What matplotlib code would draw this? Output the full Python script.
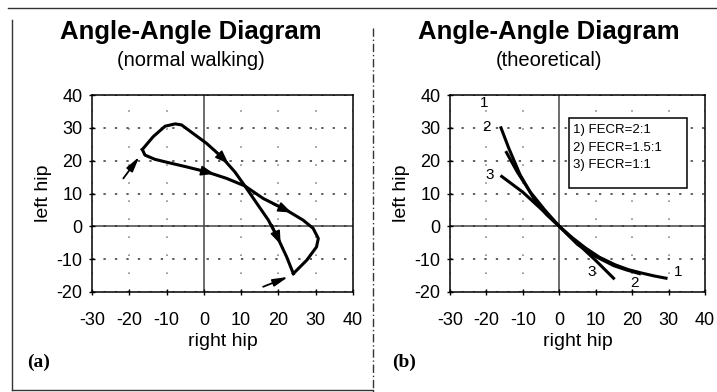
import matplotlib.pyplot as plt
from matplotlib.lines import Line2D
from matplotlib.patches import Rectangle

plt.rcParams['font.family'] = ['Liberation Sans', 'DejaVu Sans']
plt.rcParams['axes.unicode_minus'] = False

# (a) measured hip angles, normal walking (degrees)
upper_x = [-16.5, -13.6, -10.4, -7.7, -6.0, -2.9, 0.7, 4.7, 8.3, 11.0,
           14.2, 17.3, 19.9, 22.2, 24.0]
upper_y = [23.4, 27.3, 30.5, 31.2, 30.9, 28.3, 25.3, 21.2, 16.6, 12.3,
           7.0, 1.9, -3.7, -9.3, -14.4]
lower_x = [-16.5, -15.8, -13.1, -9.5, -4.6, 0.7, 6.1, 11.0, 15.9, 22.2,
           26.6, 29.3, 30.7, 30.2, 27.6, 24.0]
lower_y = [23.4, 21.7, 20.4, 19.4, 18.1, 16.6, 14.6, 12.3, 8.5, 4.9,
           1.9, -0.6, -3.7, -6.3, -10.3, -14.4]

# direction markers along the loop: (tail, head)
loop_arrows = [((2.6, 23.5), (6.6, 19.1)),
               ((-2.0, 17.3), (2.8, 16.0)),
               ((18.5, 6.8), (23.5, 4.2)),
               ((18.3, 0.5), (20.6, -5.5))]
start_arrows = [((-21.6, 14.6), (-17.3, 21.2)),
                ((15.9, -18.4), (22.6, -15.4))]

# (b) theoretical curves for three flexion/extension cycle ratios
c1_x = [-16.0, -13.9, -10.8, -6.8, -3.5, 0.0, 3.5, 7.2, 11.0, 15.3, 19.0,
        22.5, 26.0, 29.3]
c1_y = [30.0, 23.9, 15.8, 8.1, 3.6, 0.0, -3.4, -6.6, -9.4, -11.7, -13.2,
        -14.2, -15.1, -15.8]
c2_x = [-14.5, -11.5, -8.0, -4.0, 0.0, 5.0, 10.0, 15.0, 18.5, 22.0]
c2_y = [22.5, 16.5, 10.5, 5.0, 0.0, -5.5, -9.2, -12.0, -13.3, -14.4]
c3_x = [-15.8, -10.0, -5.0, 0.0, 5.0, 10.0, 14.9]
c3_y = [15.2, 10.4, 5.3, 0.0, -5.2, -10.4, -15.8]
ratios = ['2:1', '1.5:1', '1:1']

xticks = [-30, -20, -10, 0, 10, 20, 30, 40]
yticks = [-20, -10, 0, 10, 20, 30, 40]

fig = plt.figure(figsize=(7.17, 3.92), dpi=100)
ax_a = fig.add_axes([92 / 717, 1 - 292 / 392, 261 / 717, 197 / 392])
ax_b = fig.add_axes([450 / 717, 1 - 292 / 392, 255 / 717, 197 / 392])


def style_axes(ax):
    ax.set_xlim(-30, 40)
    ax.set_ylim(-20, 40)
    ax.set_xticks(xticks)
    ax.set_yticks(yticks)
    ax.tick_params(axis='x', direction='inout', length=5, width=1,
                   labelsize=13, pad=12)
    ax.tick_params(axis='y', direction='inout', length=5, width=1,
                   labelsize=13, pad=4.5)
    ax.yaxis.grid(True, color='#333333', lw=1.1, linestyle=(0, (1.5, 6)))
    ax.xaxis.grid(True, color='#777777', lw=1.1, linestyle=(0, (1, 10.8)))
    ax.axhline(0, color='#444444', lw=1.1, zorder=1)
    ax.axvline(0, color='#444444', lw=1.1, zorder=1)
    for s in ax.spines.values():
        s.set_linewidth(1.1)
    ax.set_xlabel('right hip', fontsize=14, labelpad=3)
    ax.set_ylabel('left hip', fontsize=14, labelpad=3)


style_axes(ax_a)
style_axes(ax_b)

ax_a.plot(upper_x, upper_y, color='black', lw=2.2, solid_joinstyle='round')
ax_a.plot(lower_x, lower_y, color='black', lw=2.2, solid_joinstyle='round')
for tail, head in loop_arrows:
    ax_a.annotate('', xy=head, xytext=tail,
                  arrowprops=dict(arrowstyle='-|>,head_length=0.8,head_width=0.3',
                                  color='black', lw=1.2, shrinkA=0, shrinkB=0))
for tail, head in start_arrows:
    ax_a.annotate('', xy=head, xytext=tail,
                  arrowprops=dict(arrowstyle='-|>,head_length=0.9,head_width=0.22',
                                  color='black', lw=1.3, shrinkA=0, shrinkB=0))

for xs, ys in [(c1_x, c1_y), (c2_x, c2_y), (c3_x, c3_y)]:
    ax_b.plot(xs, ys, color='black', lw=2.2, solid_joinstyle='round')

# curve numbers at both ends
lab = dict(fontsize=11, ha='center', va='center', zorder=4)
ax_b.text(-20.5, 37.5, '1', **lab)
ax_b.text(-20.0, 30.3, '2', **lab)
ax_b.text(-19.0, 15.6, '3', **lab)
ax_b.text(32.5, -13.9, '1', **lab)
ax_b.text(20.6, -17.4, '2', **lab)
ax_b.text(9.0, -13.9, '3', **lab)

# key box
ax_b.add_patch(Rectangle((2.6, 11.6), 32.5, 21.3, facecolor='white',
                         edgecolor='black', lw=1.1, zorder=3))
for i, r in enumerate(ratios):
    ax_b.text(3.8, 29.3 - 5.3 * i, f'{i + 1}) FECR={r}', fontsize=9.5,
              ha='left', va='center', zorder=4)

fig.text(191 / 717, 1 - 32 / 392, 'Angle-Angle Diagram', fontsize=18.5,
         fontweight='bold', ha='center', va='center')
fig.text(191 / 717, 1 - 61 / 392, '(normal walking)', fontsize=14.5,
         ha='center', va='center')
fig.text(549 / 717, 1 - 32 / 392, 'Angle-Angle Diagram', fontsize=18.5,
         fontweight='bold', ha='center', va='center')
fig.text(549 / 717, 1 - 61 / 392, '(theoretical)', fontsize=14.5,
         ha='center', va='center')
fig.text(27 / 717, 1 - 362 / 392, '(a)', fontsize=14, fontweight='bold',
         family='Liberation Serif', ha='left', va='center')
fig.text(392 / 717, 1 - 362 / 392, '(b)', fontsize=14, fontweight='bold',
         family='Liberation Serif', ha='left', va='center')

# panel frame
W, H = 717, 392
frame = [([8, 717], [7.5, 7.5], '-'),
         ([11.5, 11.5], [20, 390], '-'),
         ([11.5, 373], [390, 390], '-'),
         ([373, 373], [28, 392], (0, (6, 2, 1, 2)))]
for xs, ys, ls in frame:
    fig.add_artist(Line2D([x / W for x in xs], [1 - y / H for y in ys],
                          color='#333333', lw=1, linestyle=ls))

fig.savefig('out.png', dpi=100)
